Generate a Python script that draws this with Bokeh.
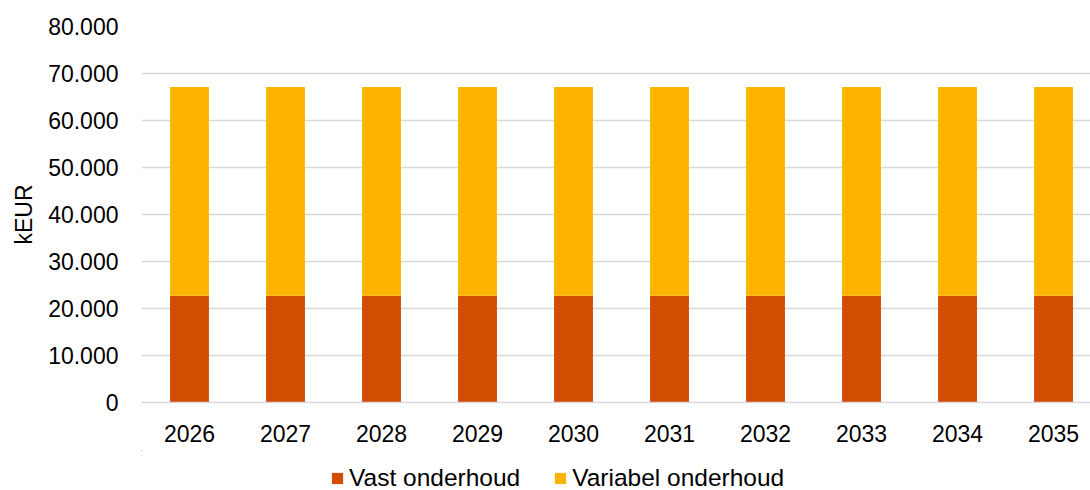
from bokeh.plotting import figure
from bokeh.layouts import column
from bokeh.models import ColumnDataSource, Range1d, FixedTicker, Legend, LegendItem
from bokeh.embed import file_html
from bokeh.resources import INLINE

years = ["2026", "2027", "2028", "2029", "2030", "2031", "2032", "2033", "2034", "2035"]
vast = [22700] * 10
variabel = [44450] * 10
y_ticks = [0, 10000, 20000, 30000, 40000, 50000, 60000, 70000, 80000]
y_tick_labels = ["0", "10.000", "20.000", "30.000", "40.000", "50.000", "60.000", "70.000", "80.000"]
series_names = ["Vast onderhoud", "Variabel onderhoud"]
colors = ["#D14D02", "#FFB400"]

FONT = "Liberation Sans"

xs = list(range(len(years)))
src = ColumnDataSource(dict(x=xs, vast=vast, variabel=variabel))

p = figure(width=1090, height=450, output_backend="svg", toolbar_location=None,
           x_range=Range1d(-0.5, 9.385), y_range=Range1d(0, 80000),
           min_border_left=141, min_border_top=26, min_border_right=0, min_border_bottom=48)
p.outline_line_color = None
p.background_fill_color = "white"

r = p.vbar_stack(["vast", "variabel"], x="x", width=0.405, source=src,
                 color=colors, line_color=None)

# axes
p.xaxis.ticker = FixedTicker(ticks=xs)
p.xaxis.major_label_overrides = {i: y for i, y in enumerate(years)}
p.yaxis.ticker = FixedTicker(ticks=y_ticks)
p.yaxis.major_label_overrides = {t: l for t, l in zip(y_ticks, y_tick_labels)}
for ax in (p.xaxis, p.yaxis):
    ax.major_tick_line_color = None
    ax.minor_tick_line_color = None
    ax.major_label_text_font = FONT
    ax.major_label_text_font_size = "23px"
    ax.major_label_text_color = "#000000"
p.xaxis.axis_line_color = "#d9d9d9"
p.xaxis.axis_line_width = 1.5
p.yaxis.axis_line_color = None
p.xaxis.major_label_standoff = 16
p.yaxis.major_label_standoff = 17
p.yaxis.axis_label = "kEUR"
p.yaxis.axis_label_text_font = FONT
p.yaxis.axis_label_text_font_size = "23px"
p.yaxis.axis_label_text_font_style = "normal"
p.yaxis.axis_label_text_color = "#000000"
p.yaxis.axis_label_standoff = 8

p.xgrid.grid_line_color = None
p.ygrid.grid_line_color = "#d9d9d9"
p.ygrid.grid_line_width = 1.5

# legend strip (separate figure, same data; bars themselves kept out of view)
p2 = figure(width=1090, height=40, output_backend="svg", toolbar_location=None,
            x_range=Range1d(100, 200), y_range=Range1d(-10, -5),
            x_axis_type=None, y_axis_type=None,
            min_border=0, min_border_left=0, min_border_right=0,
            min_border_top=0, min_border_bottom=0)
p2.grid.visible = False
p2.outline_line_color = None
r2 = p2.vbar_stack(["vast", "variabel"], x="x", width=0.405, source=src,
                   color=colors, line_color=None)

legend = Legend(items=[LegendItem(label=series_names[0], renderers=[r2[0]]),
                       LegendItem(label=series_names[1], renderers=[r2[1]])],
                location=(189, -2), orientation="horizontal",
                padding=0, margin=0, spacing=33,
                glyph_width=14, glyph_height=14, label_standoff=5,
                label_text_font=FONT, label_text_font_size="24.5px",
                label_height=20, label_text_color="#000000",
                background_fill_alpha=0, border_line_color=None)
p2.add_layout(legend, "center")

layout = column(p, p2, spacing=0)
open("out.html", "w").write(file_html(layout, INLINE))
